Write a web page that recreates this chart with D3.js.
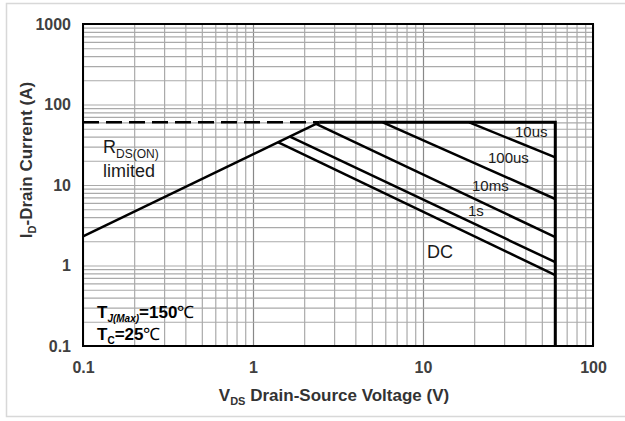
<!DOCTYPE html>
<html>
<head>
    <meta charset="utf-8" />
    <title>Safe Operating Area</title>
    <script src="https://cdn.jsdelivr.net/npm/d3@7"></script>
    <style>
        body { margin: 0; background: #fff; }
        text { font-family: "Liberation Sans", Arial, sans-serif; }
    </style>
</head>
<body>
    <svg width="625" height="421" id="mainsvg"></svg>
    <script>
        // chart values (V in volts, I in amps)
        const xTicks = [0.1, 1, 10, 100];
        const yTicks = [0.1, 1, 10, 100, 1000];
        const mantissas = [1, 2, 3, 4, 5, 6, 7, 8, 9];
        const rdsLine = [[0.1, 2.3], [2.45, 60]];
        const dashLimit = [[0.1, 60], [2.45, 60]];
        const currentLimit = [[2.45, 60], [60, 60], [60, 0.1]];
        const line10us = [[18.7, 60], [60, 22]];
        const line100us = [[5.8, 60], [60, 6.7]];
        const line10ms = [[2.35, 57.5], [60, 2.25]];
        const line1s = [[1.65, 40], [60, 1.1]];
        const lineDC = [[1.4, 34], [60, 0.76]];

        const svg = d3.select('svg');
        const margin = { top: 24, right: 32, bottom: 75, left: 83 };
        const innerWidth = 625 - margin.left - margin.right;
        const innerHeight = 421 - margin.top - margin.bottom;

        // light outer frame of the figure (open on the right, as in the picture)
        svg.append('path').attr('d', 'M625,3.5H6.5V416.5H625')
            .attr('fill', 'none').attr('stroke', '#d8d8d8').attr('stroke-width', 1.5);

        const g = svg.append('g').attr('transform', `translate(${margin.left}, ${margin.top})`);

        const xScale = d3.scaleLog().domain([0.1, 100]).range([0, innerWidth]);
        const yScale = d3.scaleLog().domain([0.1, 1000]).range([innerHeight, 0]);

        // log grid: 1..9 in every decade
        const decadeGrid = ticks => ticks.slice(0, -1)
            .flatMap(t => mantissas.map(m => +(m * t).toPrecision(3)));
        const xGridVals = decadeGrid(xTicks).concat([100]);
        const yGridVals = decadeGrid(yTicks).concat([1000]);

        const xGrid = g.append('g').attr('transform', `translate(0, ${innerHeight})`)
            .call(d3.axisBottom(xScale).tickValues(xGridVals).tickSize(-innerHeight));
        const yGrid = g.append('g')
            .call(d3.axisLeft(yScale).tickValues(yGridVals).tickSize(-innerWidth));
        [xGrid, yGrid].forEach(a => {
            a.select('.domain').remove();
            a.selectAll('.tick text').remove();
            a.selectAll('.tick line').attr('stroke', '#aaaaaa').attr('stroke-width', 1.2);
        });
        xGrid.selectAll('.tick line').filter(d => xTicks.includes(d)).attr('stroke', '#888888');

        // axes (labels only)
        const xAxis = d3.axisBottom(xScale).tickValues(xTicks).tickFormat(d => d).tickSize(0).tickPadding(16);
        const yAxis = d3.axisLeft(yScale).tickValues(yTicks).tickFormat(d => d).tickSize(0).tickPadding(12);
        const xAxisGroup = g.append('g').attr('transform', `translate(0, ${innerHeight})`).call(xAxis);
        const yAxisGroup = g.append('g').call(yAxis);
        [xAxisGroup, yAxisGroup].forEach(a => {
            a.select('.domain').remove();
            a.selectAll('.tick text').attr('font-size', 16).attr('font-weight', 'bold')
                .attr('fill', '#404040').attr('font-family', '"Liberation Sans", Arial, sans-serif');
        });

        // SOA curves
        const line = d3.line().x(d => xScale(d[0])).y(d => yScale(d[1]));
        const curves = g.append('g').attr('fill', 'none').attr('stroke', '#000');
        curves.append('path').datum(dashLimit).attr('d', line).attr('stroke-width', 2.5).attr('stroke-dasharray', '16,7');
        [rdsLine, line10us, line100us, line10ms, line1s, lineDC].forEach(c => {
            curves.append('path').datum(c).attr('d', line).attr('stroke-width', 2.5);
        });
        curves.append('path').datum(currentLimit).attr('d', line).attr('stroke-width', 3);

        // plot frame
        g.append('rect').attr('width', innerWidth).attr('height', innerHeight)
            .attr('fill', 'none').attr('stroke', '#000').attr('stroke-width', 2);

        // curve labels
        const lab = (x, y, size) => svg.append('text').attr('x', x).attr('y', y)
            .attr('font-size', size).attr('fill', '#1a1a1a');
        lab(515, 137, 15).text('10us');
        lab(488, 163, 15).text('100us');
        lab(472, 191, 15).text('10ms');
        lab(468, 216, 15).text('1s');
        lab(427, 258, 18).text('DC');
        const rds = lab(103, 153, 18);
        rds.append('tspan').text('R');
        rds.append('tspan').attr('font-size', 12).attr('dy', 5).text('DS(ON)');
        lab(103, 177, 18).text('limited');

        // conditions
        const tj = lab(97, 318, 17).attr('font-weight', 'bold').attr('fill', '#000');
        tj.append('tspan').text('T');
        tj.append('tspan').attr('font-size', 10).attr('font-style', 'italic').attr('dy', 4).text('J(Max)');
        tj.append('tspan').attr('dy', -4).text('=150');
        tj.append('tspan').attr('font-weight', 'normal').text('℃');
        const tc = lab(97, 340, 17).attr('font-weight', 'bold').attr('fill', '#000');
        tc.append('tspan').text('T');
        tc.append('tspan').attr('font-size', 10).attr('dy', 4).text('C');
        tc.append('tspan').attr('dy', -4).text('=25');
        tc.append('tspan').attr('font-weight', 'normal').text('℃');

        // axis titles
        const xt = svg.append('text').attr('x', 334).attr('y', 401).attr('text-anchor', 'middle')
            .attr('font-size', 17).attr('font-weight', 'bold').attr('fill', '#333');
        xt.append('tspan').text('V');
        xt.append('tspan').attr('font-size', 11).attr('dy', 4).text('DS');
        xt.append('tspan').attr('dy', -4).text(' Drain-Source Voltage (V)');
        const yt = svg.append('text').attr('transform', 'translate(32, 160) rotate(-90)').attr('text-anchor', 'middle')
            .attr('font-size', 17).attr('font-weight', 'bold').attr('fill', '#333');
        yt.append('tspan').text('I');
        yt.append('tspan').attr('font-size', 11).attr('dy', 4).text('D');
        yt.append('tspan').attr('dy', -4).text('-Drain Current (A)');
    </script>
</body>
</html>
